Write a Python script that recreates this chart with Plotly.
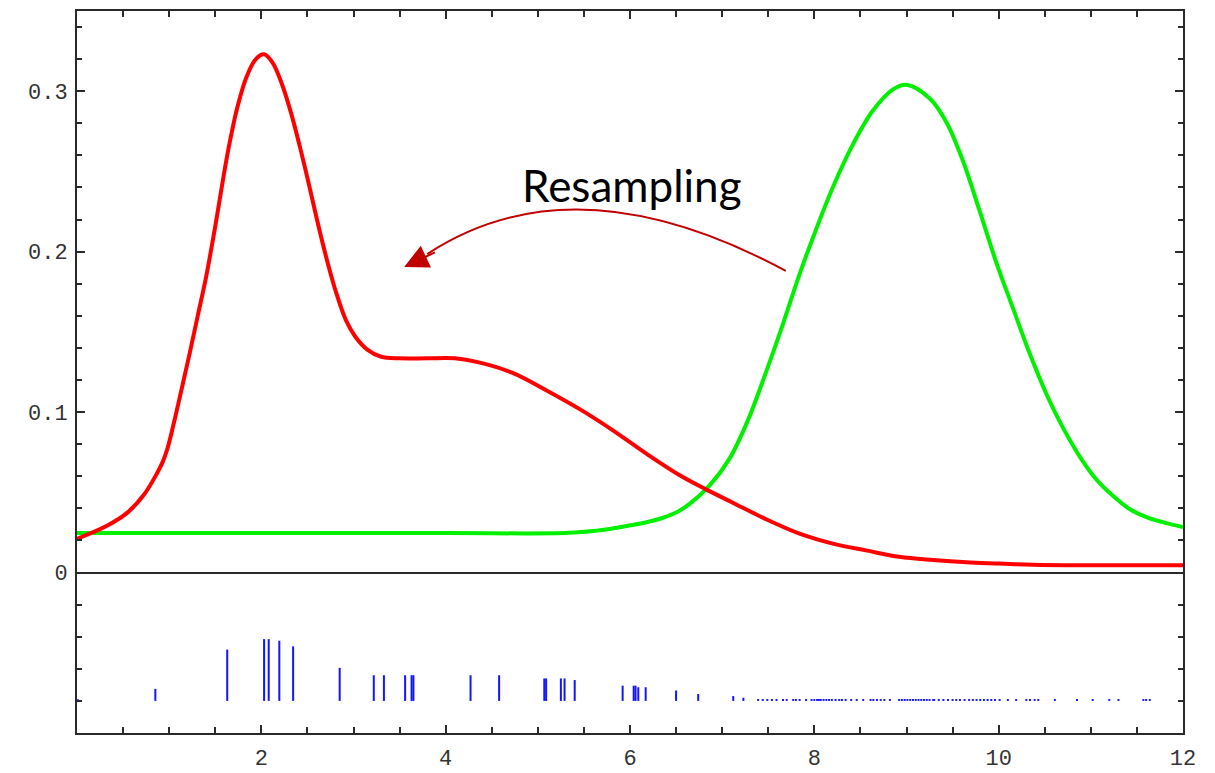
import plotly.graph_objects as go

# ---- data ----
red_x = [0.0, 0.33, 0.55, 0.73, 0.87, 0.93, 0.98, 1.05, 1.13, 1.22, 1.31, 1.40, 1.47, 1.53,
         1.59, 1.66, 1.74, 1.84, 1.94, 2.03, 2.12, 2.22, 2.32, 2.42, 2.52, 2.62, 2.72, 2.82,
         2.92, 3.02, 3.15, 3.30, 3.50, 3.80, 4.10, 4.36, 4.72, 5.08, 5.45, 5.81, 6.17, 6.53,
         6.82, 7.11, 7.47, 7.84, 8.20, 8.56, 8.92, 9.29, 9.65, 10.01, 10.37, 11.0, 12.0]
red_y = [0.021, 0.0293, 0.0375, 0.0488, 0.0621, 0.069, 0.077, 0.093, 0.113, 0.136, 0.160,
         0.184, 0.206, 0.226, 0.247, 0.269, 0.290, 0.309, 0.320, 0.323, 0.318, 0.305, 0.287,
         0.265, 0.241, 0.216, 0.193, 0.173, 0.157, 0.147, 0.139, 0.1345, 0.1335, 0.1335,
         0.1335, 0.131, 0.1246, 0.114, 0.102, 0.0888, 0.0744, 0.061, 0.052, 0.0437, 0.0334,
         0.0242, 0.018, 0.0138, 0.0098, 0.0078, 0.0064, 0.0056, 0.0048, 0.0045, 0.0045]

green_x = [0.0, 2.0, 4.0, 5.34, 5.74, 5.99, 6.17, 6.35, 6.50, 6.64, 6.86, 7.08, 7.28, 7.47,
           7.66, 7.84, 8.02, 8.20, 8.42, 8.63, 8.85, 9.0, 9.25, 9.43, 9.61, 9.79, 9.97, 10.16,
           10.34, 10.52, 10.70, 10.88, 11.06, 11.24, 11.42, 11.61, 11.79, 12.0]
green_y = [0.0246, 0.0246, 0.0246, 0.0248, 0.0269, 0.0293, 0.0312, 0.0340, 0.0374, 0.0425,
           0.054, 0.071, 0.095, 0.124, 0.155, 0.186, 0.214, 0.240, 0.267, 0.2875, 0.301,
           0.304, 0.2956, 0.281, 0.257, 0.226, 0.194, 0.164, 0.136, 0.111, 0.090, 0.0723,
           0.058, 0.0478, 0.0396, 0.0344, 0.0313, 0.0283]

stick_base = -0.08
stick_x = [0.01, 0.85, 1.63, 2.03, 2.08, 2.195, 2.345, 2.85, 3.22, 3.33, 3.56, 3.63, 3.65,
           4.27, 4.58, 5.07, 5.09, 5.25, 5.29, 5.40, 5.92, 6.04, 6.06, 6.09, 6.17, 6.50,
           6.74, 7.12, 7.23,
           7.39, 7.44, 7.49, 7.54, 7.59, 7.66, 7.70, 7.77, 7.80,
           7.84, 7.91, 7.97, 8.00, 8.03, 8.05, 8.07, 8.10, 8.13, 8.16, 8.19, 8.23, 8.27,
           8.30, 8.34, 8.40, 8.46, 8.53, 8.61, 8.64, 8.68, 8.72, 8.76, 8.82, 8.92, 8.95,
           8.98, 9.01, 9.04, 9.07, 9.10, 9.13, 9.16, 9.19, 9.22, 9.25, 9.29, 9.30, 9.35,
           9.40, 9.45, 9.50, 9.54, 9.58, 9.63, 9.68, 9.72, 9.76, 9.80, 9.84, 9.88, 9.92,
           9.96, 10.01, 10.10, 10.19, 10.30, 10.34, 10.39, 10.43, 10.61, 10.85, 11.02,
           11.20, 11.30, 11.57, 11.60, 11.64]
stick_w = [0.001, 0.0075, 0.032, 0.0385, 0.0385, 0.0375, 0.034, 0.0206, 0.016, 0.016, 0.016,
           0.016, 0.016, 0.016, 0.016, 0.014, 0.014, 0.014, 0.014, 0.013, 0.0095, 0.0095,
           0.0095, 0.0085, 0.0085, 0.0065, 0.0043, 0.003, 0.002] + [0.0012] * 80

x_ticks = [2, 4, 6, 8, 10, 12]
x_labels = ["2", "4", "6", "8", "10", "12"]
y_ticks = [0, 0.1, 0.2, 0.3]
y_labels = ["0", "0.1", "0.2", "0.3"]

# ---- build figure ----
sx, sy = [], []
for xv, wv in zip(stick_x, stick_w):
    sx += [xv, xv, None]
    sy += [stick_base, stick_base + wv, None]

fig = go.Figure()
fig.add_trace(go.Scatter(x=sx, y=sy, mode="lines",
                         line=dict(color="#1414ff", width=2), hoverinfo="skip"))
fig.add_trace(go.Scatter(x=green_x, y=green_y, mode="lines",
                         line=dict(color="#00f000", width=4, shape="spline", smoothing=1.0)))
fig.add_trace(go.Scatter(x=red_x, y=red_y, mode="lines",
                         line=dict(color="#ff0000", width=4, shape="spline", smoothing=1.0)))

arrow_col = "#c00000"
fig.add_shape(type="path", xref="x", yref="y",
              path="M 7.69,0.188 Q 5.40,0.2588 3.80,0.1985",
              line=dict(color=arrow_col, width=2))
fig.add_annotation(x=3.55, y=0.1905, ax=3.90, ay=0.2000, xref="x", yref="y",
                   axref="x", ayref="y", text="", showarrow=True, arrowhead=2,
                   arrowsize=2.4, arrowwidth=2, arrowcolor=arrow_col)
fig.add_annotation(x=6.02, y=0.2414, xref="x", yref="y", text="Resampling",
                   showarrow=False, font=dict(family="Lato", size=44, color="#000000"))

axis_common = dict(showgrid=False, showline=True, linecolor="#2a2a2a", linewidth=2,
                   mirror="ticks", ticks="inside", tickcolor="#2a2a2a", tickwidth=2,
                   tickfont=dict(family="Liberation Mono", size=22, color="#333333"))

fig.update_xaxes(range=[0, 12], tickmode="array", tickvals=x_ticks, ticktext=x_labels,
                 ticklen=8, zeroline=False, ticklabelstandoff=4,
                 minor=dict(dtick=0.5, tick0=0, ticks="inside", ticklen=6,
                            tickcolor="#2a2a2a", tickwidth=2),
                 **axis_common)
fig.update_yaxes(range=[-0.1, 0.35], tickmode="array", tickvals=y_ticks, ticktext=y_labels,
                 ticklen=8, zeroline=True, zerolinecolor="#2a2a2a", zerolinewidth=2,
                 ticklabelstandoff=3,
                 minor=dict(dtick=0.02, tick0=0, ticks="inside", ticklen=5,
                            tickcolor="#2a2a2a", tickwidth=2),
                 **axis_common)

# the page body adds an 8px offset, so the figure is sized/margined to compensate
fig.update_layout(width=1207, height=765, showlegend=False,
                  plot_bgcolor="white", paper_bgcolor="white",
                  margin=dict(l=69, r=32, t=1, b=32))

fig.write_html("out.html")
